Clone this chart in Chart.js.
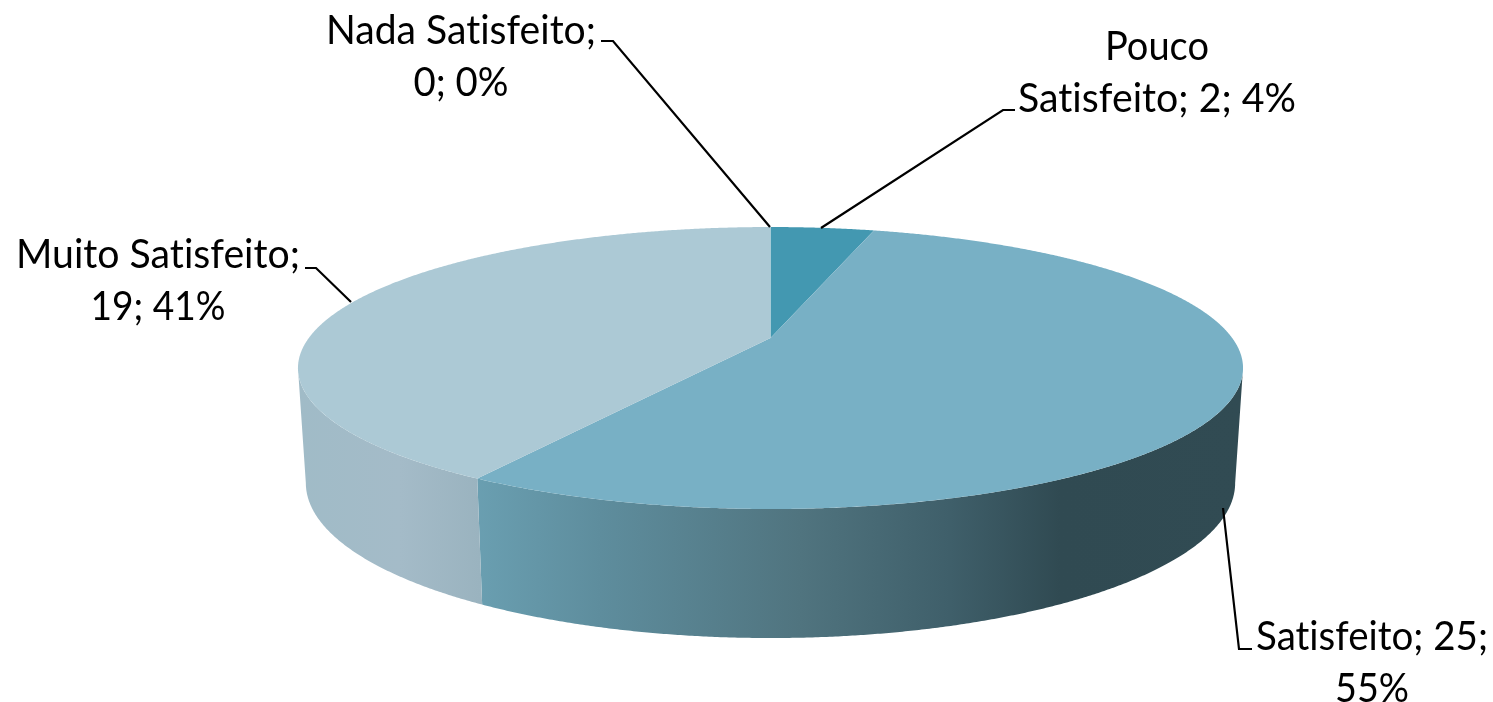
<!DOCTYPE html>
<html>
<head>
<meta charset="utf-8">
<script src="https://cdn.jsdelivr.net/npm/chart.js@4"></script>
<style>
  html, body { margin: 0; padding: 0; background: #fff; overflow: hidden; }
  canvas { display: block; }
</style>
</head>
<body>
<canvas id="pie" width="1493" height="702"></canvas>
<script>
// values
const categories = ["Nada Satisfeito", "Pouco Satisfeito", "Satisfeito", "Muito Satisfeito"];
const values = [0, 2, 25, 19];
const percents = ["0%", "4%", "55%", "41%"];
const topColors = ["#4398b1", "#4398b1", "#78b0c5", "#acc9d5"];

// wall shading per slice: [x, colour] stops
const wallStops = [
  null,
  null,
  [[475, "#6a9fb1"], [600, "#5e8d9d"], [800, "#50747f"], [950, "#3f5f6a"], [1060, "#304a52"], [1243, "#314b53"]],
  [[298, "#a0bbc7"], [400, "#a4bbc8"], [480, "#9ab3bf"]]
];

// label text breaks after this many characters
const wrapAt = [16, 5, 15, 17];
// centre x, first baseline, width of each line
const labelPos = [
  {x: 461, y: 44, w: [270, 95]},
  {x: 1157, y: 60, w: [104, 278]},
  {x: 1372, y: 650, w: [232, 74]},
  {x: 158, y: 268, w: [284, 135]}
];
const leaders = [
  [[601, 41], [613, 41], [770, 227]],
  [[1015, 110], [1003, 110], [821, 228]],
  [[1252, 649], [1239, 649], [1223, 508]],
  [[305, 268], [316, 268], [351, 302]]
];

// the disc is seen in perspective, so the centre is not the middle of the ellipse
const persp = 0.2129;
const topRim = {cx: 770.5, cy: 338, a: 461.7, b: 134.6};
const baseRim = {cx: 770.5, cy: 450, a: 454, b: 148};

function project(rim, angle) {
  const u = Math.cos(angle), v = -Math.sin(angle);
  const w = 1 + persp * v;
  return [rim.cx + u * rim.a / w, rim.cy - v * rim.b / w];
}

function rimPoints(rim, from, to) {
  const pts = [];
  const n = Math.max(2, Math.ceil(Math.abs(to - from) / 0.005));
  for (let i = 0; i <= n; i++) {
    pts.push(project(rim, from + (to - from) * i / n));
  }
  return pts;
}

function tracePath(ctx, pts) {
  ctx.beginPath();
  pts.forEach((p, i) => i ? ctx.lineTo(p[0], p[1]) : ctx.moveTo(p[0], p[1]));
  ctx.closePath();
}

const pie3d = {
  id: "pie3d",
  beforeDatasetDraw(chart, args) {
    const ctx = chart.ctx;
    const arcs = args.meta.data;
    // the side wall is visible between the widest points of the rim
    const wallFrom = Math.asin(persp);
    const wallTo = Math.PI - wallFrom;

    arcs.forEach((arc, i) => {
      if (!wallStops[i]) return;
      const from = Math.max(arc.startAngle, wallFrom);
      const to = Math.min(arc.endAngle, wallTo);
      if (to <= from) return;
      const stops = wallStops[i];
      const x0 = stops[0][0], x1 = stops[stops.length - 1][0];
      const grad = ctx.createLinearGradient(x0, 0, x1, 0);
      stops.forEach(s => grad.addColorStop((s[0] - x0) / (x1 - x0), s[1]));
      tracePath(ctx, rimPoints(topRim, from, to).concat(rimPoints(baseRim, to, from)));
      ctx.fillStyle = grad;
      ctx.fill();
    });

    arcs.forEach((arc, i) => {
      if (values[i] === 0) return;
      const pts = rimPoints(topRim, arc.startAngle, arc.endAngle);
      pts.unshift([topRim.cx, topRim.cy]);
      tracePath(ctx, pts);
      ctx.fillStyle = topColors[i];
      ctx.fill();
    });
    return false; // top faces are done, skip the flat pie
  },
  afterDatasetsDraw(chart) {
    const ctx = chart.ctx;
    ctx.save();
    ctx.strokeStyle = "#000";
    ctx.lineWidth = 2.2;
    leaders.forEach(line => {
      ctx.beginPath();
      line.forEach((p, i) => i ? ctx.lineTo(p[0], p[1]) : ctx.moveTo(p[0], p[1]));
      ctx.stroke();
    });

    ctx.fillStyle = "#000";
    ctx.font = "40px Lato";
    ctx.letterSpacing = "0.01px"; // keeps Lato from joining "ti" and "fe"
    ctx.textAlign = "center";
    ctx.textBaseline = "alphabetic";
    categories.forEach((name, i) => {
      const full = name + "; " + values[i] + "; " + percents[i];
      const lines = [full.slice(0, wrapAt[i]), full.slice(wrapAt[i]).trim()];
      const pos = labelPos[i];
      lines.forEach((text, j) => {
        ctx.fillText(text, pos.x, pos.y + j * 52, pos.w[j]);
      });
    });
    ctx.restore();
  }
};

new Chart(document.getElementById("pie"), {
  type: "pie",
  data: {
    labels: categories,
    datasets: [{data: values, backgroundColor: topColors, borderWidth: 0}]
  },
  options: {
    responsive: false,
    animation: false,
    plugins: {legend: {display: false}, tooltip: {enabled: false}}
  },
  plugins: [pie3d]
});
</script>
</body>
</html>
